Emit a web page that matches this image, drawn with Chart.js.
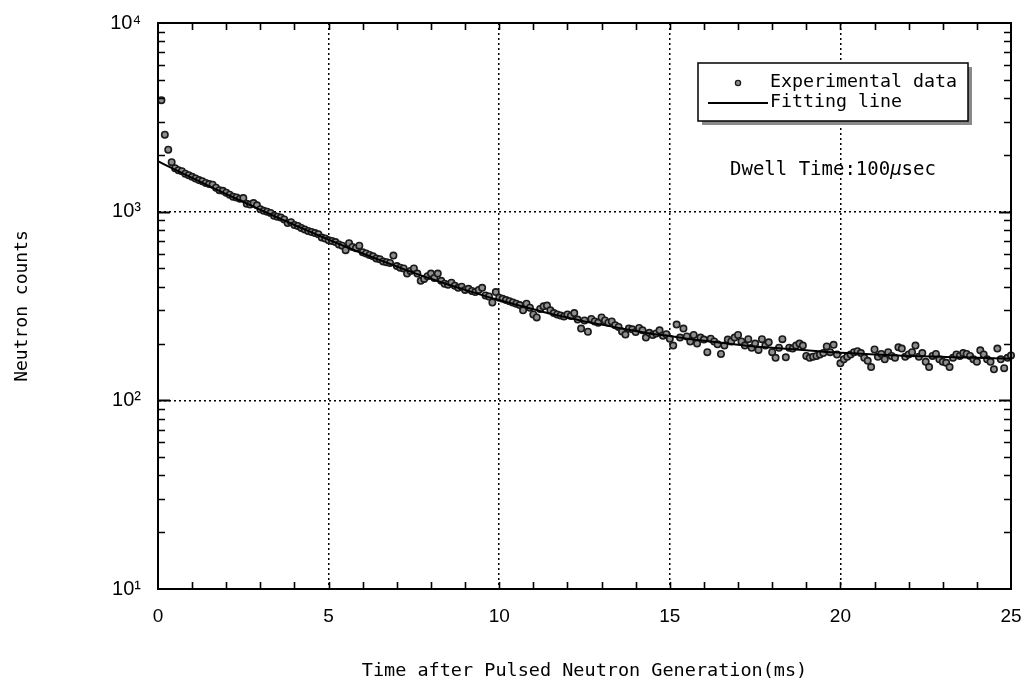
<!DOCTYPE html>
<html><head><meta charset="utf-8">
<script src="https://cdn.jsdelivr.net/npm/chart.js@4.4.1/dist/chart.umd.min.js"></script>
<style>html,body{margin:0;padding:0;background:#fff;} canvas{display:block;}</style>
</head><body>
<canvas id="c" width="1028" height="688"></canvas>
<script>
// ---- data ----
const timeMs = [
 0.1,0.2,0.3,0.4,0.5,0.6,0.7,0.8,0.9,1.0,
 1.1,1.2,1.3,1.4,1.5,1.6,1.7,1.8,1.9,2.0,
 2.1,2.2,2.3,2.4,2.5,2.6,2.7,2.8,2.9,3.0,
 3.1,3.2,3.3,3.4,3.5,3.6,3.7,3.8,3.9,4.0,
 4.1,4.2,4.3,4.4,4.5,4.6,4.7,4.8,4.9,5.0,
 5.1,5.2,5.3,5.4,5.5,5.6,5.7,5.8,5.9,6.0,
 6.1,6.2,6.3,6.4,6.5,6.6,6.7,6.8,6.9,7.0,
 7.1,7.2,7.3,7.4,7.5,7.6,7.7,7.8,7.9,8.0,
 8.1,8.2,8.3,8.4,8.5,8.6,8.7,8.8,8.9,9.0,
 9.1,9.2,9.3,9.4,9.5,9.6,9.7,9.8,9.9,10.0,
 10.1,10.2,10.3,10.4,10.5,10.6,10.7,10.8,10.9,11.0,
 11.1,11.2,11.3,11.4,11.5,11.6,11.7,11.8,11.9,12.0,
 12.1,12.2,12.3,12.4,12.5,12.6,12.7,12.8,12.9,13.0,
 13.1,13.2,13.3,13.4,13.5,13.6,13.7,13.8,13.9,14.0,
 14.1,14.2,14.3,14.4,14.5,14.6,14.7,14.8,14.9,15.0,
 15.1,15.2,15.3,15.4,15.5,15.6,15.7,15.8,15.9,16.0,
 16.1,16.2,16.3,16.4,16.5,16.6,16.7,16.8,16.9,17.0,
 17.1,17.2,17.3,17.4,17.5,17.6,17.7,17.8,17.9,18.0,
 18.1,18.2,18.3,18.4,18.5,18.6,18.7,18.8,18.9,19.0,
 19.1,19.2,19.3,19.4,19.5,19.6,19.7,19.8,19.9,20.0,
 20.1,20.2,20.3,20.4,20.5,20.6,20.7,20.8,20.9,21.0,
 21.1,21.2,21.3,21.4,21.5,21.6,21.7,21.8,21.9,22.0,
 22.1,22.2,22.3,22.4,22.5,22.6,22.7,22.8,22.9,23.0,
 23.1,23.2,23.3,23.4,23.5,23.6,23.7,23.8,23.9,24.0,
 24.1,24.2,24.3,24.4,24.5,24.6,24.7,24.8,24.9,25.0
];
const counts = [
 3900,2560,2130,1830,1700,1660,1640,1590,1560,1530,
 1500,1470,1450,1420,1400,1390,1340,1300,1290,1260,
 1230,1200,1190,1170,1180,1100,1090,1110,1080,1030,
 1010,1000,985,950,940,930,910,870,880,850,
 840,820,805,790,780,770,760,730,720,705,
 700,690,670,660,625,680,650,640,660,610,
 600,590,580,565,560,545,540,535,585,515,
 505,500,470,485,500,470,430,440,455,470,
 445,470,430,415,410,420,405,395,400,385,
 390,380,375,385,395,360,355,330,375,350,
 345,340,335,330,325,320,300,325,310,285,
 275,305,315,318,300,290,285,282,278,285,
 280,290,268,240,265,231,270,262,258,275,
 265,258,262,250,245,232,223,240,238,230,
 242,235,215,228,222,226,235,220,224,212,
 195,252,215,240,218,205,222,200,215,210,
 180,212,205,198,176,195,210,205,215,222,
 205,195,211,190,200,185,211,195,203,180,
 168,190,211,169,190,188,195,200,195,172,
 168,170,172,175,178,193,180,197,175,157,
 165,170,175,180,182,178,168,162,150,186,
 170,176,165,180,172,168,191,188,170,175,
 180,195,170,178,160,150,172,176,165,160,
 158,150,168,175,172,178,176,172,165,160,
 184,175,165,160,146,188,165,148,168,173
];
const fitTimeMs = [0,0.5,1,1.5,2,2.5,3,3.5,4,4.5,5,5.5,6,6.5,7,7.5,8,8.5,9,9.5,
  10,10.5,11,11.5,12,12.5,13,13.5,14,14.5,15,15.5,16,16.5,17,17.5,18,18.5,19,19.5,
  20,21,22,23,24,25];
const fitCounts = [1850,1671,1511,1367,1240,1125,1023,931,850,776,711,652,600,554,512,474,441,411,385,361,
  340,321,304,288,275,262,252,242,233,225,219,212,207,202,197,193,190,187,184,181,
  179,175,172,170,168,166];
const yTickValues = [10,20,30,40,50,60,70,80,90,100,200,300,400,500,600,700,800,900,
  1000,2000,3000,4000,5000,6000,7000,8000,9000,10000];
const yTickLabels = {10:'10\u00B9',100:'10\u00B2',1000:'10\u00B3',10000:'10\u2074'};
const xMajorStep = 5;
const seriesLabels = ['Experimental data','Fitting line'];
const xTitle = 'Time after Pulsed Neutron Generation(ms)';
const yTitle = 'Neutron counts';
const noteParts = ['Dwell Time:100', '\u03BC', 'sec'];

const MONO = '"DejaVu Sans Mono", monospace';
const SANS = '"Liberation Sans", Arial, sans-serif';

const decorations = {
  id: 'decorations',
  afterDraw(chart) {
    const ctx = chart.ctx, a = chart.chartArea;
    const xs = chart.scales.x, ys = chart.scales.y;
    ctx.save();
    ctx.strokeStyle = '#000';
    ctx.lineWidth = 1.6;
    xs.ticks.forEach(t => {
      if (t.value <= 0 || t.value >= 25) return;
      const px = Math.round(xs.getPixelForValue(t.value)) + 0.5;
      ctx.beginPath();
      ctx.moveTo(px, a.bottom); ctx.lineTo(px, a.bottom - 7);
      ctx.moveTo(px, a.top); ctx.lineTo(px, a.top + 7);
      ctx.stroke();
    });
    ys.ticks.forEach(t => {
      if (t.value <= 10 || t.value >= 10000) return;
      const py = Math.round(ys.getPixelForValue(t.value)) + 0.5;
      const major = yTickLabels[t.value] !== undefined;
      const len = major ? 12 : 7;
      ctx.lineWidth = major ? 2.2 : 1.6;
      ctx.beginPath();
      ctx.moveTo(a.left, py); ctx.lineTo(a.left + len, py);
      ctx.moveTo(a.right, py); ctx.lineTo(a.right - len, py);
      ctx.stroke();
    });
    ctx.lineWidth = 2;
    ctx.strokeRect(a.left, a.top, a.right - a.left, a.bottom - a.top);

    // legend box with shadow
    const bx = 698, by = 63, bw = 270, bh = 58;
    ctx.fillStyle = '#8a8a8a';
    ctx.fillRect(bx + 4, by + 4, bw, bh);
    ctx.fillStyle = '#fff';
    ctx.fillRect(bx, by, bw, bh);
    ctx.lineWidth = 1.5;
    ctx.strokeStyle = '#000';
    ctx.strokeRect(bx, by, bw, bh);
    const dsPts = chart.data.datasets[1], dsFit = chart.data.datasets[0];
    ctx.beginPath();
    ctx.arc(738, 83, 2.6, 0, Math.PI * 2);
    ctx.fillStyle = dsPts.backgroundColor; ctx.fill();
    ctx.lineWidth = 1.3; ctx.strokeStyle = dsPts.borderColor; ctx.stroke();
    ctx.beginPath();
    ctx.moveTo(708, 103); ctx.lineTo(768, 103);
    ctx.lineWidth = 2; ctx.strokeStyle = '#000'; ctx.stroke();
    ctx.fillStyle = '#000';
    ctx.font = '18.3px ' + MONO;
    ctx.textBaseline = 'middle';
    ctx.textAlign = 'left';
    ctx.fillText(dsPts.label, 770, 82);
    ctx.fillText(dsFit.label, 770, 102);

    ctx.font = '19px ' + MONO;
    let x = 730;
    ctx.fillText(noteParts[0], x, 170);
    x += ctx.measureText(noteParts[0]).width;
    ctx.font = 'italic 19px ' + MONO;
    ctx.fillText(noteParts[1], x, 170);
    x += ctx.measureText(noteParts[1]).width;
    ctx.font = '19px ' + MONO;
    ctx.fillText(noteParts[2], x, 170);
    ctx.restore();
  }
};

const gridDash = [2, 3];
new Chart(document.getElementById('c'), {
  type: 'scatter',
  data: {
    datasets: [
      {
        type: 'line',
        label: seriesLabels[1],
        data: fitTimeMs.map((t, i) => ({x: t, y: fitCounts[i]})),
        borderColor: '#000',
        borderWidth: 2,
        pointRadius: 0,
        fill: false,
        cubicInterpolationMode: 'monotone',
        order: 0
      },
      {
        type: 'scatter',
        label: seriesLabels[0],
        data: timeMs.map((t, i) => ({x: t, y: counts[i]})),
        backgroundColor: '#8e8e8e',
        borderColor: '#1a1a1a',
        borderWidth: 1.6,
        pointRadius: 3.2,
        clip: 5,
        order: 1
      }
    ]
  },
  options: {
    responsive: false,
    animation: false,
    layout: {padding: {top: 23, right: 17, left: 0, bottom: 0}},
    plugins: {legend: {display: false}, tooltip: {enabled: false}, title: {display: false}},
    scales: {
      x: {
        type: 'linear', position: 'bottom', min: 0, max: 25,
        ticks: {
          stepSize: 1, autoSkip: false, maxRotation: 0, padding: 16,
          color: '#000', font: {family: SANS, size: 19},
          callback: v => (v % xMajorStep === 0 ? String(v) : '')
        },
        grid: {
          drawTicks: false,
          lineWidth: 1.5,
          borderDash: gridDash,
          color: c => (c.tick && c.tick.value % xMajorStep === 0 && c.tick.value > 0 && c.tick.value < 25) ? '#000' : 'rgba(0,0,0,0)'
        },
        border: {display: true, color: '#000', width: 2, dash: gridDash},
        title: {display: true, text: xTitle, color: '#000', font: {family: MONO, size: 18.5}, padding: {top: 0, bottom: 6}},
        afterFit: s => { s.height = 99; s.paddingLeft = 0; s.paddingRight = 0; }
      },
      y: {
        type: 'logarithmic', position: 'left', min: 10, max: 10000,
        afterBuildTicks: s => { s.ticks = yTickValues.map(v => ({value: v})); },
        ticks: {
          autoSkip: false, padding: 17, color: '#000', font: {family: SANS, size: 20},
          callback: v => (yTickLabels[v] || '')
        },
        grid: {
          drawTicks: false,
          lineWidth: 1.5,
          borderDash: gridDash,
          color: c => (c.tick && (c.tick.value === 100 || c.tick.value === 1000)) ? '#000' : 'rgba(0,0,0,0)'
        },
        border: {display: true, color: '#000', width: 2, dash: gridDash},
        title: {display: true, text: yTitle, color: '#000', font: {family: MONO, size: 18}, padding: {top: 12, bottom: 0}},
        afterFit: s => { s.width = 158; s.paddingTop = 0; s.paddingBottom = 0; }
      }
    }
  },
  plugins: [decorations]
});
</script>
</body></html>
